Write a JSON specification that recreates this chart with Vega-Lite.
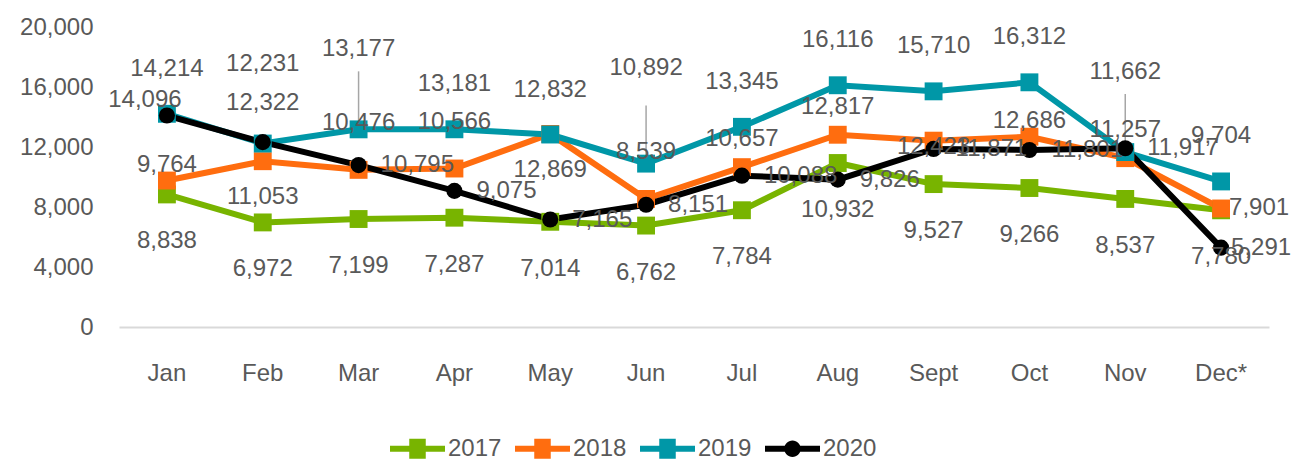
{
  "$schema": "https://vega.github.io/schema/vega-lite/v6.json",
  "width": 1150,
  "height": 300,
  "autosize": "none",
  "padding": {"left": 119, "top": 27, "right": 35, "bottom": 141},
  "background": "white",
  "config": {
    "view": {"stroke": null},
    "font": "Liberation Sans",
    "text": {"font": "Liberation Sans", "fontSize": 24, "fill": "#595959", "baseline": "middle", "align": "center"}
  },
  "data": {
    "values": [
      {"month": "Jan", "series": "2017", "value": 8838},
      {"month": "Feb", "series": "2017", "value": 6972},
      {"month": "Mar", "series": "2017", "value": 7199},
      {"month": "Apr", "series": "2017", "value": 7287},
      {"month": "May", "series": "2017", "value": 7014},
      {"month": "Jun", "series": "2017", "value": 6762},
      {"month": "Jul", "series": "2017", "value": 7784},
      {"month": "Aug", "series": "2017", "value": 10932},
      {"month": "Sept", "series": "2017", "value": 9527},
      {"month": "Oct", "series": "2017", "value": 9266},
      {"month": "Nov", "series": "2017", "value": 8537},
      {"month": "Dec*", "series": "2017", "value": 7780},
      {"month": "Jan", "series": "2018", "value": 9764},
      {"month": "Feb", "series": "2018", "value": 11053},
      {"month": "Mar", "series": "2018", "value": 10476},
      {"month": "Apr", "series": "2018", "value": 10566},
      {"month": "May", "series": "2018", "value": 12869},
      {"month": "Jun", "series": "2018", "value": 8539},
      {"month": "Jul", "series": "2018", "value": 10657},
      {"month": "Aug", "series": "2018", "value": 12817},
      {"month": "Sept", "series": "2018", "value": 12423},
      {"month": "Oct", "series": "2018", "value": 12686},
      {"month": "Nov", "series": "2018", "value": 11257},
      {"month": "Dec*", "series": "2018", "value": 7901},
      {"month": "Jan", "series": "2019", "value": 14214},
      {"month": "Feb", "series": "2019", "value": 12231},
      {"month": "Mar", "series": "2019", "value": 13177},
      {"month": "Apr", "series": "2019", "value": 13181},
      {"month": "May", "series": "2019", "value": 12832},
      {"month": "Jun", "series": "2019", "value": 10892},
      {"month": "Jul", "series": "2019", "value": 13345},
      {"month": "Aug", "series": "2019", "value": 16116},
      {"month": "Sept", "series": "2019", "value": 15710},
      {"month": "Oct", "series": "2019", "value": 16312},
      {"month": "Nov", "series": "2019", "value": 11662},
      {"month": "Dec*", "series": "2019", "value": 9704},
      {"month": "Jan", "series": "2020", "value": 14096},
      {"month": "Feb", "series": "2020", "value": 12322},
      {"month": "Mar", "series": "2020", "value": 10795},
      {"month": "Apr", "series": "2020", "value": 9075},
      {"month": "May", "series": "2020", "value": 7165},
      {"month": "Jun", "series": "2020", "value": 8151},
      {"month": "Jul", "series": "2020", "value": 10088},
      {"month": "Aug", "series": "2020", "value": 9826},
      {"month": "Sept", "series": "2020", "value": 11871},
      {"month": "Oct", "series": "2020", "value": 11801},
      {"month": "Nov", "series": "2020", "value": 11917},
      {"month": "Dec*", "series": "2020", "value": 5291}
    ]
  },
  "encoding": {
    "x": {
      "field": "month", "type": "nominal",
      "sort": ["Jan","Feb","Mar","Apr","May","Jun","Jul","Aug","Sept","Oct","Nov","Dec*"],
      "axis": {"title": null, "labelAngle": 0, "ticks": false, "domainColor": "#d9d9d9", "domainWidth": 2, "labelFont": "Liberation Sans", "labelFontSize": 24, "labelColor": "#595959", "labelPadding": 34}
    },
    "y": {
      "field": "value", "type": "quantitative",
      "scale": {"domain": [0, 20000]},
      "axis": {"title": null, "values": [0,4000,8000,12000,16000,20000], "format": ",.0f", "grid": false, "domain": false, "ticks": false, "labelFont": "Liberation Sans", "labelFontSize": 24, "labelColor": "#595959", "labelPadding": 26}
    }
  },
  "layer": [
    {
      "mark": {"type": "rule", "stroke": "#a6a6a6", "strokeWidth": 1.5, "yOffset": -8, "y2Offset": -58},
      "transform": [{"filter": "datum.series == '2019' && indexof(['Mar','Jun','Nov'], datum.month) >= 0"}],
      "encoding": {"y2": {"field": "value"}}
    },
    {
      "mark": {"type": "line", "strokeWidth": 6},
      "encoding": {
        "color": {
          "field": "series", "type": "nominal",
          "scale": {"domain": ["2017","2018","2019","2020"], "range": ["#78b400","#ff6d0f","#0097a7","#000000"]},
          "legend": {
            "orient": "none", "legendX": 271, "legendY": 394, "direction": "horizontal", "title": null,
            "labelFont": "Liberation Sans", "labelFontSize": 24, "labelColor": "#595959",
            "symbolSize": 3025, "columnPadding": 13, "labelOffset": 3,
            "encode": {"symbols": {"update": {
              "shape": {"signal": "datum.value == '2020' ? 'M-1,-0.11H1V0.11H-1Z M0.3,0A0.3,0.3 0 1,1 -0.3,0A0.3,0.3 0 1,1 0.3,0Z' : 'M-1,-0.11H1V0.11H-1Z M-0.3,-0.36H0.3V0.36H-0.3Z'"},
              "fill": {"scale": "color", "field": "value"},
              "stroke": {"value": "transparent"},
              "strokeWidth": {"value": 0},
              "size": {"value": 3025},
              "opacity": {"value": 1}
            }}}
          }
        }
      }
    },
    {
      "transform": [{"filter": "datum.series != '2020'"}],
      "mark": {"type": "square", "size": 320, "opacity": 1},
      "encoding": {"color": {"field": "series", "type": "nominal"}}
    },
    {
      "transform": [{"filter": "datum.series == '2020'"}],
      "mark": {"type": "circle", "size": 260, "opacity": 1},
      "encoding": {"color": {"field": "series", "type": "nominal"}}
    },
    {
      "transform": [{"filter": "datum.series == '2017'"}],
      "mark": {"type": "text", "dy": 47},
      "encoding": {"text": {"field": "value", "format": ","}}
    },
    {
      "transform": [{"filter": "datum.series == '2019' && indexof(['Feb','Mar','Jun','Nov'], datum.month) < 0"}],
      "mark": {"type": "text", "dy": -45},
      "encoding": {"text": {"field": "value", "format": ","}}
    },
    {
      "transform": [{"filter": "datum.series == '2019' && indexof(['Feb','Mar','Nov'], datum.month) >= 0"}],
      "mark": {"type": "text", "dy": -80},
      "encoding": {"text": {"field": "value", "format": ","}}
    },
    {
      "transform": [{"filter": "datum.series == '2019' && datum.month == 'Jun'"}],
      "mark": {"type": "text", "dy": -96},
      "encoding": {"text": {"field": "value", "format": ","}}
    },
    {
      "transform": [{"filter": "datum.series == '2018' && indexof(['Mar','Apr','Jun'], datum.month) >= 0"}],
      "mark": {"type": "text", "dy": -47},
      "encoding": {"text": {"field": "value", "format": ","}}
    },
    {
      "transform": [{"filter": "datum.series == '2018' && indexof(['Feb','May'], datum.month) >= 0"}],
      "mark": {"type": "text", "dy": 36},
      "encoding": {"text": {"field": "value", "format": ","}}
    },
    {
      "transform": [{"filter": "datum.series == '2018' && indexof(['Jul','Aug','Nov'], datum.month) >= 0"}],
      "mark": {"type": "text", "dy": -28},
      "encoding": {"text": {"field": "value", "format": ","}}
    },
    {
      "transform": [{"filter": "datum.series == '2018' && indexof(['Jan','Oct'], datum.month) >= 0"}],
      "mark": {"type": "text", "dy": -16},
      "encoding": {"text": {"field": "value", "format": ","}}
    },
    {
      "transform": [{"filter": "datum.series == '2018' && datum.month == 'Sept'"}],
      "mark": {"type": "text", "dy": 6},
      "encoding": {"text": {"field": "value", "format": ","}}
    },
    {
      "transform": [{"filter": "datum.series == '2018' && datum.month == 'Dec*'"}],
      "mark": {"type": "text", "dx": 8, "align": "left"},
      "encoding": {"text": {"field": "value", "format": ","}}
    },
    {
      "transform": [{"filter": "datum.series == '2020' && datum.month == 'Jan'"}],
      "mark": {"type": "text", "dy": -16, "dx": -22},
      "encoding": {"text": {"field": "value", "format": ","}}
    },
    {
      "transform": [{"filter": "datum.series == '2020' && datum.month == 'Feb'"}],
      "mark": {"type": "text", "dy": -39},
      "encoding": {"text": {"field": "value", "format": ","}}
    },
    {
      "transform": [{"filter": "datum.series == '2020' && indexof(['Jan','Feb','Dec*'], datum.month) < 0"}],
      "mark": {"type": "text", "dx": 22, "align": "left"},
      "encoding": {"text": {"field": "value", "format": ","}}
    },
    {
      "transform": [{"filter": "datum.series == '2020' && datum.month == 'Dec*'"}],
      "mark": {"type": "text", "dx": 10, "align": "left"},
      "encoding": {"text": {"field": "value", "format": ","}}
    }
  ]
}
